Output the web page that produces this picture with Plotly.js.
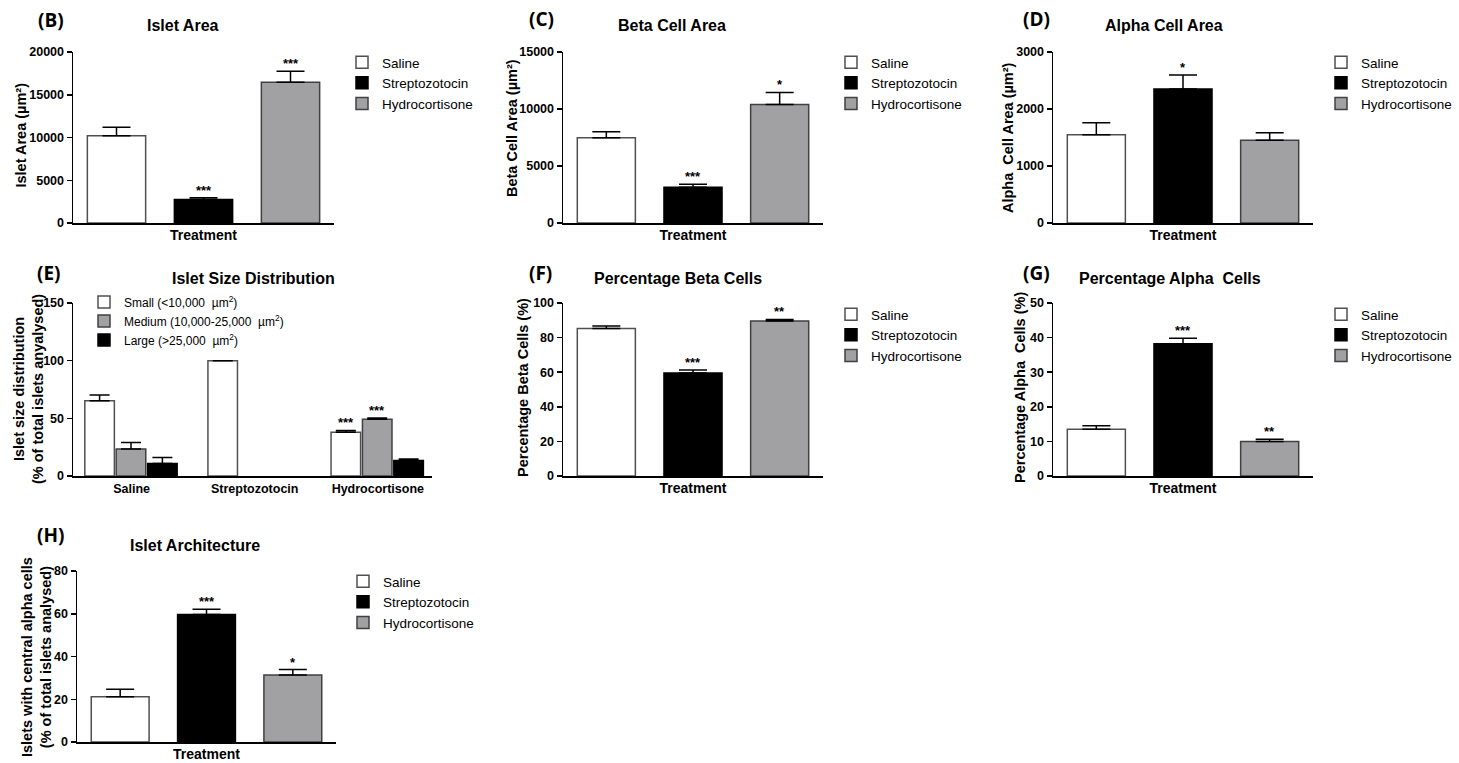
<!DOCTYPE html>
<html>
<head>
<meta charset="utf-8">
<script src="https://cdn.plot.ly/plotly-3.0.1.min.js"></script>
<style>html,body{margin:0;padding:0;background:#fff;} #chart{width:1459px;height:763px;}</style>
</head>
<body>
<div id="chart"></div>
<script>
// ---------- DATA ----------
const treatments = ['Saline', 'Streptozotocin', 'Hydrocortisone'];

const isletArea      = [10200, 2750, 16450];
const isletAreaSem   = [1000, 200, 1300];
const isletAreaSig   = ['', '***', '***'];

const betaArea       = [7480, 3130, 10400];
const betaAreaSem    = [530, 260, 1050];
const betaAreaSig    = ['', '***', '*'];

const alphaArea      = [1550, 2350, 1450];
const alphaAreaSem   = [210, 245, 133];
const alphaAreaSig   = ['', '*', ''];

const sizeClasses    = ['Small (<10,000  µm<sup>2</sup>)', 'Medium (10,000-25,000  µm<sup>2</sup>)', 'Large (>25,000  µm<sup>2</sup>)'];
const sizeSmall      = [65.3, 100, 38.0];
const sizeSmallSem   = [4.9, null, 1.5];
const sizeSmallSig   = ['', '', '***'];
const sizeMedium     = [23.5, 0, 49.1];
const sizeMediumSem  = [5.6, null, 1.1];
const sizeMediumSig  = ['', '', '***'];
const sizeLarge      = [10.8, 0, 13.4];
const sizeLargeSem   = [5.2, null, 1.4];
const sizeLargeSig   = ['', '', ''];

const pctBeta        = [85.3, 59.6, 89.6];
const pctBetaSem     = [1.4, 1.7, 0.9];
const pctBetaSig     = ['', '***', '**'];

const pctAlpha       = [13.5, 38.2, 10.0];
const pctAlphaSem    = [1.0, 1.6, 0.6];
const pctAlphaSig    = ['', '***', '**'];

const centralAlpha    = [21.2, 59.6, 31.4];
const centralAlphaSem = [3.5, 2.5, 2.5];
const centralAlphaSig = ['', '***', '*'];

// ---------- STYLE / LAYOUT ----------
const W = 1459, H = 763;
const FONT = 'Liberation Sans, Arial, Helvetica, sans-serif';
const treatFill = ['#ffffff', '#000000', '#a1a1a4'];
const treatLine = ['#505050', '#000000', '#404040'];
const sizeFill  = ['#ffffff', '#a1a1a4', '#000000'];
const sizeLine  = ['#505050', '#404040', '#000000'];

const panels = [
  {letter:'(B)', title:'Islet Area', ytitle:'Islet Area (µm²)', vals:isletArea, sem:isletAreaSem, sig:isletAreaSig,
   ymax:20000, dtick:5000, xd:[73,334], yd:[52,223], leg:[342,47], tpos:[183,26], lpos:[51,20], ytpos:[20.5,135]},
  {letter:'(C)', title:'Beta Cell Area', ytitle:'Beta Cell Area (µm²)', vals:betaArea, sem:betaAreaSem, sig:betaAreaSig,
   ymax:15000, dtick:5000, xd:[563,823], yd:[52,223], leg:[831,47], tpos:[672,26], lpos:[541,19], ytpos:[512,128]},
  {letter:'(D)', title:'Alpha Cell Area', ytitle:'Alpha  Cell Area (µm²)', vals:alphaArea, sem:alphaAreaSem, sig:alphaAreaSig,
   ymax:3000, dtick:1000, xd:[1053,1313], yd:[52,223], leg:[1321,47], tpos:[1164,26], lpos:[1036,19], ytpos:[1008,137]},
  {letter:'(E)', title:'Islet Size Distribution', ytitle:'Islet size distribution<br>(% of total islets anyalysed)', grouped:true,
   ymax:150, dtick:50, xd:[73,432], yd:[303,476], leg:[84,287.5], tpos:[253,278], lpos:[49,273], ytpos:[29,389]},
  {letter:'(F)', title:'Percentage Beta Cells', ytitle:'Percentage Beta Cells (%)', vals:pctBeta, sem:pctBetaSem, sig:pctBetaSig,
   ymax:100, dtick:20, xd:[563,823], yd:[303,476], leg:[831,299], tpos:[678,278], lpos:[540,273], ytpos:[523,388]},
  {letter:'(G)', title:'Percentage Alpha  Cells', ytitle:'Percentage Alpha  Cells (%)', vals:pctAlpha, sem:pctAlphaSem, sig:pctAlphaSig,
   ymax:50, dtick:10, xd:[1053,1313], yd:[303,476], leg:[1321,299], tpos:[1170,278], lpos:[1036,273], ytpos:[1020,388]},
  {letter:'(H)', title:'Islet Architecture', ytitle:'Islets with central alpha cells<br>(% of total islets analysed)', vals:centralAlpha, sem:centralAlphaSem, sig:centralAlphaSig,
   ymax:80, dtick:20, xd:[77,336], yd:[571,742], leg:[343,566], tpos:[195,545], lpos:[51,535], ytpos:[36,657]}
];

const traces = [];
const annotations = [];
const layout = {
  width: W, height: H,
  margin: {l:0, r:0, t:0, b:0},
  paper_bgcolor: '#ffffff', plot_bgcolor: '#ffffff',
  barmode: 'overlay',
  showlegend: true,
  font: {family: FONT, color: '#000'},
  annotations: annotations
};

function errBar(arr, w) {
  return {type:'data', array:arr, arrayminus:arr.map(v => v === null ? null : 0), symmetric:false,
          color:'#000', thickness:1.5, width:w};
}

panels.forEach((p, k) => {
  const n = k + 1;
  const xa = 'x' + (n === 1 ? '' : n), ya = 'y' + (n === 1 ? '' : n);
  const xk = 'xaxis' + (n === 1 ? '' : n), yk = 'yaxis' + (n === 1 ? '' : n);
  const lg = 'legend' + (n === 1 ? '' : n);

  const xaxis = {
    domain: [p.xd[0] / W, p.xd[1] / W], anchor: ya,
    type: 'category', categoryorder: 'array', categoryarray: treatments,
    range: p.grouped ? [-0.476, 2.44] : [-0.5, 2.5],
    showline: true, linecolor: '#000', linewidth: 1.5, ticks: '', showgrid: false, zeroline: false,
    tickfont: {family: FONT, size: 12.5, weight: 'bold', color: '#000'},
    fixedrange: true
  };
  if (p.grouped) {
    xaxis.showticklabels = true;
  } else {
    xaxis.showticklabels = false;
    xaxis.tickmode = 'array';
    xaxis.tickvals = [];
    xaxis.title = {text: 'Treatment', font: {family: FONT, size: 14, weight: 'bold', color: '#000'}, standoff: 6};
  }
  layout[xk] = xaxis;
  layout[yk] = {
    domain: [1 - p.yd[1] / H, 1 - p.yd[0] / H], anchor: xa,
    range: [0, p.ymax], dtick: p.dtick, tick0: 0, tickformat: 'd',
    showline: true, linecolor: '#000', linewidth: 1.5, ticks: 'outside', ticklen: 5, tickwidth: 1.5, tickcolor: '#000',
    showgrid: false, zeroline: false, fixedrange: true,
    tickfont: {family: FONT, size: 12.5, weight: 'bold', color: '#000'}
  };
  layout[lg] = {
    x: p.leg[0] / W, y: 1 - p.leg[1] / H, xanchor: 'left', yanchor: 'top',
    bgcolor: 'rgba(0,0,0,0)', borderwidth: 0, tracegroupgap: 0,
    font: {family: FONT, size: p.grouped ? 12 : 13.5, color: '#000'}
  };

  if (p.grouped) {
    const series = [sizeSmall, sizeMedium, sizeLarge];
    const sems = [sizeSmallSem, sizeMediumSem, sizeLargeSem];
    const sigs = [sizeSmallSig, sizeMediumSig, sizeLargeSig];
    const offsets = [-0.38, -0.125, 0.13];
    const bw = 0.24;
    series.forEach((s, j) => {
      traces.push({
        type: 'bar', name: sizeClasses[j], x: treatments,
        y: s.map(v => v > 0 ? v : null),   // zero-height bars are not drawn
        xaxis: xa, yaxis: ya, legend: lg, offset: offsets[j], width: bw,
        marker: {color: sizeFill[j], line: {color: sizeLine[j], width: 1.5}},
        error_y: errBar(sems[j], 10), hoverinfo: 'x+y'
      });
      sigs[j].forEach((st, i) => {
        if (!st) return;
        annotations.push({xref: xa, yref: ya, x: i + offsets[j] + bw / 2, y: s[i] + (sems[j][i] || 0),
          text: st, showarrow: false, yanchor: 'bottom', xanchor: 'center', yshift: -2,
          font: {family: FONT, size: 13, weight: 'bold', color: '#000'}});
      });
    });
  } else {
    treatments.forEach((t, i) => {
      traces.push({
        type: 'bar', name: t, x: [t], y: [p.vals[i]],
        xaxis: xa, yaxis: ya, legend: lg, width: 0.67,
        marker: {color: treatFill[i], line: {color: treatLine[i], width: 1.5}},
        error_y: errBar([p.sem[i]], 14), hoverinfo: 'x+y'
      });
      if (p.sig[i]) {
        annotations.push({xref: xa, yref: ya, x: i, y: p.vals[i] + p.sem[i],
          text: p.sig[i], showarrow: false, yanchor: 'bottom', xanchor: 'center', yshift: -2,
          font: {family: FONT, size: 13, weight: 'bold', color: '#000'}});
      }
    });
  }

  // panel title
  annotations.push({xref: 'paper', yref: 'paper', x: p.tpos[0] / W, y: 1 - p.tpos[1] / H,
    text: p.title, showarrow: false, xanchor: 'center', yanchor: 'middle',
    font: {family: FONT, size: 16, weight: 'bold', color: '#000'}});
  // panel letter
  annotations.push({xref: 'paper', yref: 'paper', x: p.lpos[0] / W, y: 1 - p.lpos[1] / H,
    text: p.letter, showarrow: false, xanchor: 'center', yanchor: 'middle',
    font: {family: 'Open Sans, Noto Sans, sans-serif', size: 19, weight: 'bold', color: '#000'}});
  // y-axis title
  annotations.push({xref: 'paper', yref: 'paper', x: p.ytpos[0] / W, y: 1 - p.ytpos[1] / H,
    text: p.ytitle, showarrow: false, xanchor: 'center', yanchor: 'middle', textangle: -90,
    font: {family: FONT, size: 14.5, weight: 'bold', color: '#000'}});
});

Plotly.newPlot('chart', traces, layout, {displayModeBar: false, staticPlot: true});
</script>
</body>
</html>
